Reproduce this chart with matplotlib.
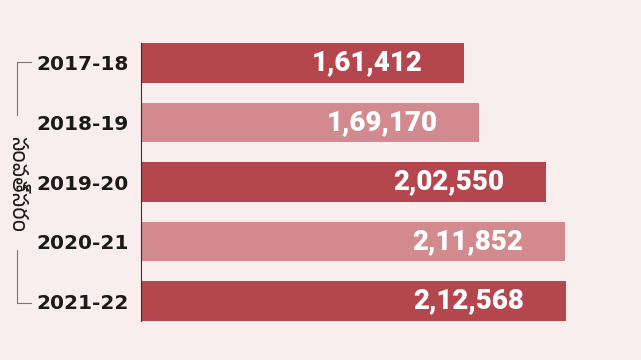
import numpy as np
import matplotlib
matplotlib.use("Agg")
import matplotlib.pyplot as plt
from matplotlib import font_manager

years = ["2017-18", "2018-19", "2019-20", "2020-21", "2021-22"]
values = [161412, 169170, 202550, 211852, 212568]
labels = ["1,61,412", "1,69,170", "2,02,550", "2,11,852", "2,12,568"]
side_label = "సంవత్సరం"

dark = "#b4474d"
light = "#d38a8e"
bg = "#f8eeee"

# telugu font if one happens to be installed
telugu = [f.name for f in font_manager.fontManager.ttflist if "Telugu" in f.name]
side_family = telugu[:1] + ["Noto Sans", "DejaVu Sans"]

fig = plt.figure(figsize=(6.41, 3.6), dpi=100)
fig.patch.set_facecolor(bg)
ax = fig.add_axes([141 / 641, 39 / 360, 500 / 641, 278 / 360])
ax.set_facecolor("none")

pos = np.arange(len(years))
colors = [dark if i % 2 == 0 else light for i in pos]
bars = ax.barh(pos, values, height=0.67, color=colors)

for b, lab in zip(bars, labels):
    ax.annotate(lab, (b.get_width(), b.get_y() + b.get_height() / 2),
                xytext=(-30, 0), textcoords="offset points",
                ha="right", va="center", color="white",
                fontsize=20, fontweight="heavy", family="Roboto")

ax.set_xlim(0, 250000)
ax.set_ylim(len(years) - 1 + 0.335, -0.335)
ax.set_yticks(pos)
ax.set_yticklabels(years, fontsize=14.5, fontweight="bold", family="DejaVu Sans", color="#1a1a1a")
ax.tick_params(axis="y", length=0, pad=9)
ax.set_xticks([])
for s in ["top", "right", "bottom"]:
    ax.spines[s].set_visible(False)
ax.spines["left"].set_color("#333333")
ax.spines["left"].set_linewidth(0.8)

# bracket on the far left
gray = "#777777"
fig.add_artist(plt.Line2D([17 / 641, 17 / 641, 31 / 641], [1 - 115 / 360, 1 - 62 / 360, 1 - 62 / 360],
                          color=gray, lw=0.8))
fig.add_artist(plt.Line2D([17 / 641, 17 / 641, 31 / 641], [1 - 250 / 360, 1 - 303 / 360, 1 - 303 / 360],
                          color=gray, lw=0.8))
fig.text(17 / 641, 1 - 184 / 360, side_label, rotation=-90, ha="center", va="center",
         fontsize=14, family=side_family, color="#1a1a1a")

fig.savefig("out.png", dpi=100, facecolor=bg)
